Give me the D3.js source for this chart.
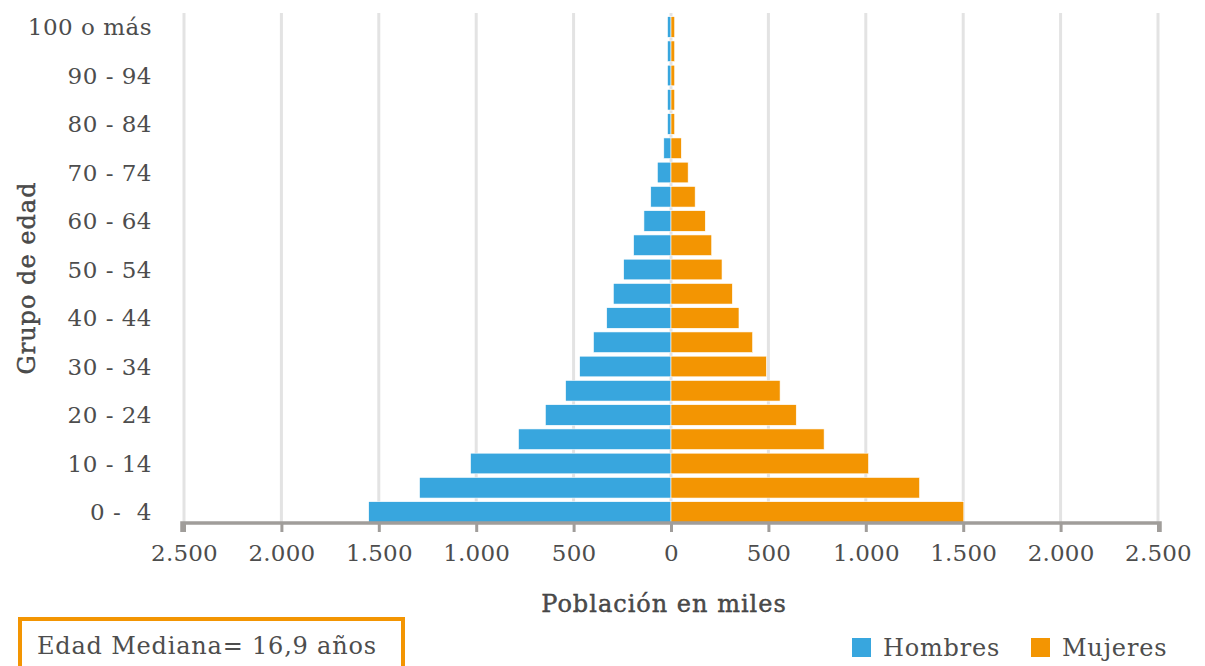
<!DOCTYPE html>
<html>
<head>
<meta charset="utf-8">
<script src="https://cdn.jsdelivr.net/npm/d3@7"></script>
<style>
  html, body { margin: 0; padding: 0; background: #fff; }
  svg { display: block; }
  text { font-family: "DejaVu Serif", "Liberation Serif", serif; fill: #4d4d4d; }
</style>
</head>
<body>
<svg id="chart" width="1205" height="666"></svg>
<script>
// Age groups, youngest first
const ageGroups = [
  "0 -  4", "5 - 9", "10 - 14", "15 - 19", "20 - 24", "25 - 29", "30 - 34",
  "35 - 39", "40 - 44", "45 - 49", "50 - 54", "55 - 59", "60 - 64", "65 - 69",
  "70 - 74", "75 - 79", "80 - 84", "85 - 89", "90 - 94", "95 - 99", "100 o más"
];
// Population in thousands
const hombres = [1552, 1291, 1029, 783, 645, 541, 469, 398, 330, 296, 243, 192, 139, 104, 70, 37, 18, 18, 18, 18, 18];
const mujeres = [1503, 1276, 1014, 786, 643, 560, 490, 419, 349, 315, 262, 209, 176, 124, 88, 53, 19, 19, 19, 19, 19];
// Axis ticks (shown as absolute values)
const xTicks = [-2500, -2000, -1500, -1000, -500, 0, 500, 1000, 1500, 2000, 2500];
// Only every other group is labelled on the y axis
const shownGroups = ageGroups.filter((d, i) => i % 2 === 0);

const colorH = "#38a6de";
const colorM = "#f39502";

const svg = d3.select("#chart");

const x = d3.scaleLinear().domain([-2500, 2500]).range([184, 1158]);
const y = d3.scaleBand()
  .domain(ageGroups)
  .range([524, 15])
  .paddingInner(0.15)
  .paddingOuter(0.07);

const locale = d3.formatLocale({ decimal: ",", thousands: ".", grouping: [3], currency: ["", ""] });
const fmt = locale.format(",d");

const axisY = 523;

// vertical gridlines
svg.append("g")
  .selectAll("line")
  .data(xTicks)
  .join("line")
  .attr("x1", d => x(d)).attr("x2", d => x(d))
  .attr("y1", 13).attr("y2", axisY)
  .attr("stroke", "#e3e3e3")
  .attr("stroke-width", 3);

// bars
const bars = svg.append("g");
bars.selectAll("rect.h")
  .data(ageGroups)
  .join("rect")
  .attr("class", "h")
  .attr("x", (d, i) => x(-hombres[i]))
  .attr("width", (d, i) => x(0) - x(-hombres[i]))
  .attr("y", d => y(d))
  .attr("height", y.bandwidth())
  .attr("fill", colorH)
  .attr("stroke", "#fff")
  .attr("stroke-width", 0.6);

bars.selectAll("rect.m")
  .data(ageGroups)
  .join("rect")
  .attr("class", "m")
  .attr("x", x(0))
  .attr("width", (d, i) => x(mujeres[i]) - x(0))
  .attr("y", d => y(d))
  .attr("height", y.bandwidth())
  .attr("fill", colorM)
  .attr("stroke", "#fff")
  .attr("stroke-width", 0.6);

// x axis
const xAxis = svg.append("g").attr("transform", `translate(0,${axisY})`)
  .call(d3.axisBottom(x).tickValues(xTicks).tickSize(9).tickFormat(d => fmt(Math.abs(d))));
xAxis.select(".domain").attr("stroke", "#a09d9a").attr("stroke-width", 3.5).attr("d", `M${x(-2500) - 2},9V0H${x(2500) + 2}V9`);
xAxis.selectAll(".tick line").attr("stroke", "#a09d9a").attr("stroke-width", 3);
xAxis.selectAll(".tick text")
  .attr("y", 22)
  .attr("font-size", 23)
  .attr("letter-spacing", 0.2)
  .attr("fill", "#4d4d4d")
  .style("font-family", '"DejaVu Serif", serif');

// y axis labels
svg.append("g")
  .selectAll("text")
  .data(shownGroups)
  .join("text")
  .attr("x", 152)
  .attr("y", d => y(d) + y.bandwidth() / 2)
  .attr("dy", "0.35em")
  .attr("text-anchor", "end")
  .attr("font-size", 23)
  .attr("letter-spacing", 0.5)
  .style("white-space", "pre")
  .attr("xml:space", "preserve")
  .text(d => d);

// axis titles
svg.append("text")
  .attr("x", 664).attr("y", 612)
  .attr("text-anchor", "middle")
  .attr("font-size", 24)
  .attr("letter-spacing", 1)
  .attr("fill", "#333")
  .attr("stroke", "#333").attr("stroke-width", 0.4)
  .text("Población en miles");

svg.append("text")
  .attr("transform", "translate(35,278) rotate(-90)")
  .attr("text-anchor", "middle")
  .attr("font-size", 24)
  .attr("letter-spacing", 1)
  .attr("fill", "#333")
  .attr("stroke", "#333").attr("stroke-width", 0.4)
  .text("Grupo de edad");

// median age box
svg.append("rect")
  .attr("x", 20).attr("y", 619)
  .attr("width", 383).attr("height", 60)
  .attr("fill", "none")
  .attr("stroke", colorM)
  .attr("stroke-width", 4);
svg.append("text")
  .attr("x", 37).attr("y", 654)
  .attr("font-size", 24)
  .attr("letter-spacing", 0.8)
  .attr("fill", "#444")
  .text("Edad Mediana= 16,9 años");

// legend
const legendItems = [
  { label: "Hombres", color: colorH, x: 852 },
  { label: "Mujeres", color: colorM, x: 1031 }
];
const lg = svg.append("g").selectAll("g").data(legendItems).join("g")
  .attr("transform", d => `translate(${d.x},638)`);
lg.append("rect").attr("width", 19).attr("height", 19).attr("fill", d => d.color);
lg.append("text")
  .attr("x", 31).attr("y", 18)
  .attr("font-size", 24)
  .attr("letter-spacing", 0.8)
  .attr("fill", "#444")
  .text(d => d.label);
</script>
</body>
</html>
